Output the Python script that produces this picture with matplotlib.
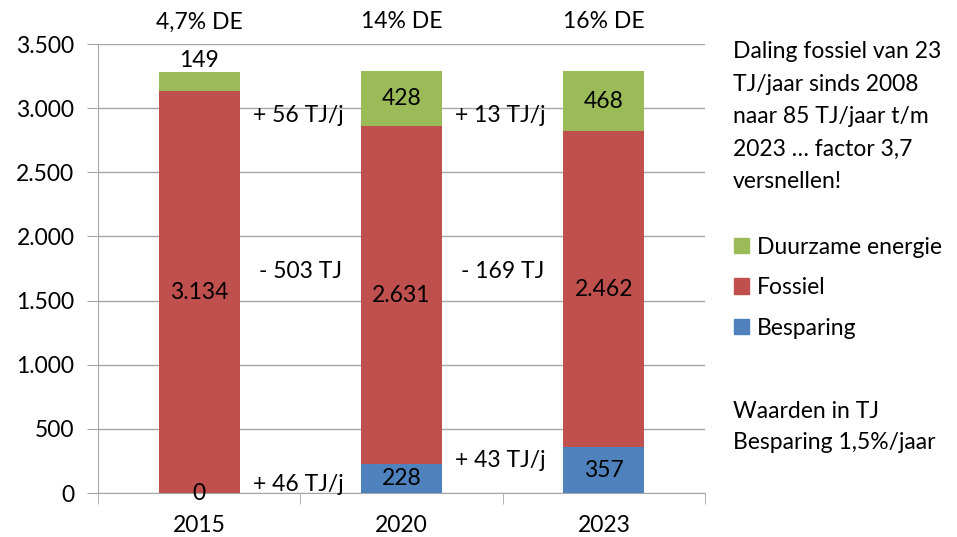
import numpy as np
import matplotlib
matplotlib.use("Agg")
import matplotlib.pyplot as plt
from matplotlib.patches import Patch

plt.rcParams['font.family'] = ['Lato', 'DejaVu Sans']

# data (TJ)
years = ['2015', '2020', '2023']
besparing = np.array([0, 228, 357])
fossiel = np.array([3134, 2631, 2462])
duurzaam = np.array([149, 428, 468])
de_share = ['4,7% DE', '14% DE', '16% DE']

# change notes between the bars
delta_top = ['+ 56 TJ/j', '+ 13 TJ/j']
delta_mid = ['- 503 TJ', '- 169 TJ']
delta_low = ['+ 46 TJ/j', '+ 43 TJ/j']

c_blue = '#4F81BD'
c_red = '#C0504D'
c_green = '#9BBB59'
grid_c = '#A6A6A6'
fs = 16.5

def fmt(v):
    return f"{v:,}".replace(',', '.')

fig = plt.figure(figsize=(9.57, 5.37), dpi=100)
ax = fig.add_axes([0.1024, 0.0819, 0.6343, 0.8361])

x = np.arange(len(years))
w = 0.4
ax.bar(x, besparing, w, color=c_blue, zorder=3)
ax.bar(x, fossiel, w, bottom=besparing, color=c_red, zorder=3)
ax.bar(x, duurzaam, w, bottom=besparing + fossiel, color=c_green, zorder=3)

# segment labels
for i in range(len(years)):
    ax.text(x[i], besparing[i] / 2, fmt(besparing[i]), ha='center', va='center', fontsize=fs, zorder=4)
    ax.text(x[i], besparing[i] + fossiel[i] / 2, fmt(fossiel[i]), ha='center', va='center', fontsize=fs, zorder=4)
    top = besparing[i] + fossiel[i]
    if duurzaam[i] < 250:
        ax.text(x[i], top + duurzaam[i] + 10, fmt(duurzaam[i]), ha='center', va='bottom', fontsize=fs, zorder=4)
    else:
        ax.text(x[i], top + duurzaam[i] / 2, fmt(duurzaam[i]), ha='center', va='center', fontsize=fs, zorder=4)
    ax.text(x[i], 3672, de_share[i], ha='center', va='center', fontsize=fs, clip_on=False)

# notes between bars
mids = x[:-1] + 0.5
for i, m in enumerate(mids):
    ax.text(m - 0.01, 2940, delta_top[i], ha='center', va='center', fontsize=fs)
    ax.text(m, 1723, delta_mid[i], ha='center', va='center', fontsize=fs)
low_y = [70, 257]
for i, m in enumerate(mids):
    ax.text(m - 0.01, low_y[i], delta_low[i], ha='center', va='center', fontsize=fs)

ax.set_xlim(-0.5, 2.5)
ax.set_ylim(0, 3500)
ax.set_yticks(np.arange(0, 3501, 500))
ax.set_yticklabels([fmt(v) for v in range(0, 3501, 500)], fontsize=fs)
ax.set_xticks(x)
ax.set_xticklabels(years, fontsize=fs)
ax.set_xticks(np.arange(-0.5, 2.6, 1), minor=True)
ax.tick_params(axis='x', which='major', length=0, pad=16)
ax.tick_params(axis='x', which='minor', length=8, color=grid_c)
ax.tick_params(axis='y', length=8, color=grid_c, pad=9)
ax.grid(axis='y', color=grid_c, linewidth=1, zorder=0)
for s in ['top', 'right']:
    ax.spines[s].set_visible(False)
for s in ['left', 'bottom']:
    ax.spines[s].set_color(grid_c)

# side text
note = "Daling fossiel van 23\nTJ/jaar sinds 2008\nnaar 85 TJ/jaar t/m\n2023 \u2026 factor 3,7\nversnellen!"
fig.text(733 / 957, 1 - 41 / 537, note, ha='left', va='top', fontsize=fs, linespacing=1.68)

handles = [Patch(color=c_green), Patch(color=c_red), Patch(color=c_blue)]
labels = ['Duurzame energie', 'Fossiel', 'Besparing']
fig.legend(handles, labels, loc='upper left', bbox_to_anchor=(713 / 957, 1 - 216 / 537),
           frameon=False, fontsize=fs, handlelength=0.65, handleheight=0.65,
           handletextpad=0.35, labelspacing=0.85)

fig.text(733 / 957, 1 - 401 / 537, "Waarden in TJ\nBesparing 1,5%/jaar", ha='left', va='top',
         fontsize=fs, linespacing=1.6)

fig.savefig('out.png', dpi=100)
